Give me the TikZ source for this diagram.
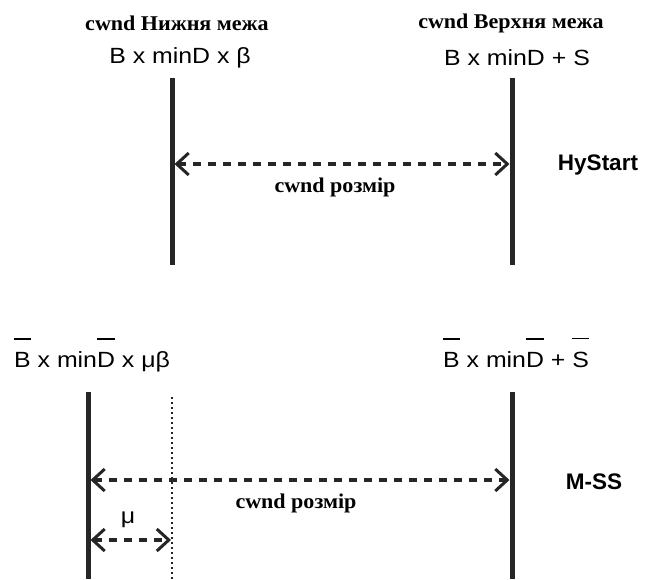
\documentclass[tikz,border=0pt]{standalone}
\usepackage{fontspec}
\setmainfont{Liberation Sans}
\newfontfamily\serifb{Liberation Serif}[BoldFont={* Bold}, FakeStretch=1.05]
\newfontfamily\formfont{Liberation Sans}[FakeStretch=1.13]
\usetikzlibrary{arrows.meta}
\newcommand\ob[1]{\setbox0\hbox{#1}\rlap{\rule[1.8\ht0]{\wd0}{1.7pt}}#1}
\begin{document}
\begin{tikzpicture}[x=1pt,y=-1pt,
  title/.style={font=\serifb\bfseries\fontsize{21}{25}\selectfont, inner sep=0pt},
  formula/.style={font=\formfont\fontsize{22}{26}\selectfont, inner sep=0pt},
  side/.style={font=\bfseries\fontsize{22.5}{27}\selectfont, inner sep=0pt},
  bound/.style={line width=5pt, black!85},
  dotline/.style={line width=2pt, black!85, dash pattern=on 2pt off 3pt},
  sizearrow/.style={line width=3.3pt, black!85, dash pattern=on 8pt off 7pt,
    {Straight Barb[length=12pt,width=22pt,line width=3pt]}-{Straight Barb[length=12pt,width=22pt,line width=3pt]}}
]
\useasboundingbox (0,0) rectangle (656,579);
% top
\node[title] (lbl1) at (177,23) {cwnd Нижня межа};
\node[title] (lbl2) at (511,23) {cwnd Верхня межа};
\node[formula] (f1) at (180,58) {B x minD x β};
\node[formula] (f2) at (517,58) {B x minD + S};
\coordinate (L1t) at (172,78); \coordinate (L1b) at (172,265);
\coordinate (R1t) at (512,78); \coordinate (R1b) at (512,265);
\draw[bound] (L1t) -- (L1b);
\draw[bound] (R1t) -- (R1b);
\coordinate (a1) at (174.5,164); \coordinate (b1) at (509.5,164);
\draw[sizearrow] (a1) -- (b1);
\node[title] (t1) at (335,187) {cwnd розмір};
\node[side] (hs) at (598,165) {HyStart};
% bottom
\node[formula, anchor=base west] (f3) at (14,367) {\ob{B} x min\ob{D} x μβ};
\node[formula, anchor=base west] (f4) at (443,367) {\ob{B} x min\ob{D} + \ob{S}};
\coordinate (L2t) at (88,392); \coordinate (L2b) at (88,579);
\coordinate (R2t) at (512,392); \coordinate (R2b) at (512,579);
\coordinate (Dt) at (172,397); \coordinate (Db) at (172,579);
\draw[bound] (L2t) -- (L2b);
\draw[bound] (R2t) -- (R2b);
\draw[dotline] (Dt) -- (Db);
\coordinate (a2) at (90.5,480); \coordinate (b2) at (509.5,480);
\draw[sizearrow] (a2) -- (b2);
\node[title] (t2) at (296,503) {cwnd розмір};
\node[side] (ms) at (594,482) {M-SS};
\node[formula] (mu) at (128,520) {μ};
\coordinate (a3) at (90.5,540); \coordinate (b3) at (171,540);
\draw[sizearrow] (a3) -- (b3);
\end{tikzpicture}
\end{document}
